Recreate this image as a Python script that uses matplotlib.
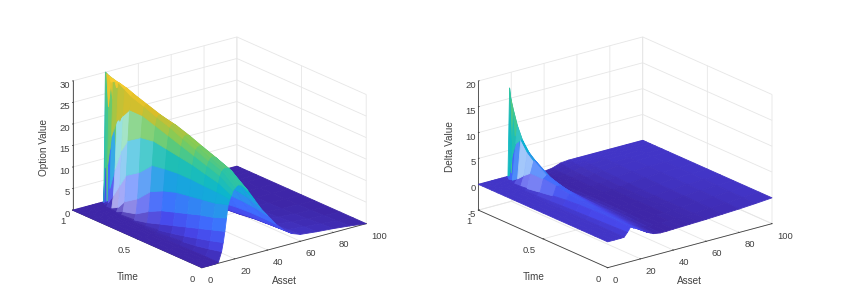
import numpy as np
import matplotlib
matplotlib.use('Agg')
import matplotlib.pyplot as plt
from matplotlib.colors import LinearSegmentedColormap

plt.rcParams['font.family'] = ['Liberation Sans', 'DejaVu Sans']
plt.rcParams['axes.unicode_minus'] = False

asset_left = [0, 4, 8, 10, 12, 13, 14, 15, 16, 17, 18, 19, 20, 21, 22, 24, 26, 28, 32, 36, 40, 45, 50, 55, 60, 70, 80, 90, 100]
asset_right = [0, 4, 8, 10, 12, 14, 16, 18, 19, 20, 21, 22, 24, 26, 28, 32, 36, 40, 45, 50, 55, 60, 70, 80, 90, 100]
time_levels = [1, .99, .97, .94, .9, .85, .8, .7, .6, .5, .4, .3, .2, .1, 0]

## one row per time level
option_value = [
    [0, 0, 0, 0, 0, 0, 0, 0, 0, 0, 0, 0, 30, 0, 0, 0, 0, 0, 0, 0, 0, 0, 0, 0, 0, 0, 0, 0, 0],
    [0, 0, 0, 0, 0, 0, 0, 0, 0, 0, 0, 8, 29.8, 22, 12, 3, .5, 0, 0, 0, 0, 0, 0, 0, 0, 0, 0, 0, 0],
    [0, 0, 0, 0, 0, 0, 0, 0, 0, 0, .5, 9, 29.5, 28, 24, 13, 6, 2.5, .3, 0, 0, 0, 0, 0, 0, 0, 0, 0, 0],
    [0, 0, 0, 0, 0, 0, 0, 0, 0, .8, 4, 16, 29.2, 28.6, 27, 19, 12, 7, 1.8, .2, 0, 0, 0, 0, 0, 0, 0, 0, 0],
    [0, 0, 0, 0, 0, 0, 0, 0, .2, 3, 9, 20, 28.9, 28.6, 28, 23, 17, 11.5, 4.5, 1.2, .2, 0, 0, 0, 0, 0, 0, 0, 0],
    [0, 0, 0, 0, 0, 0, 0, .1, 1, 6, 14, 22, 28, 28.2, 27.8, 25, 20.5, 16, 8, 3, 1, .2, 0, 0, 0, 0, 0, 0, 0],
    [0, 0, 0, 0, 0, 0, .1, .8, 3, 9, 17, 24, 27, 27.5, 27.2, 24.5, 21, 17, 10, 5, 2, .7, .2, 0, 0, 0, 0, 0, 0],
    [0, 0, 0, 0, 0, .05, .3, 1.6, 5, 11, 19, 24, 26, 26.3, 26.2, 25, 22.5, 20, 14, 9, 5, 2.2, 1, .4, .2, 0, 0, 0, 0],
    [0, 0, 0, 0, .05, .3, 1, 3.5, 8, 14, 19.5, 23, 24.8, 25.2, 25.2, 24.3, 22.5, 20.5, 15.5, 11, 7, 3.5, 1.7, .8, .4, .2, .1, .05, 0],
    [0, 0, 0, 0, .2, .7, 2, 5, 9.5, 14.5, 19, 22, 23.8, 24.3, 24.5, 23.8, 22.5, 20.5, 16, 11.5, 8, 4.5, 2.3, 1.1, .6, .3, .15, .05, 0],
    [0, 0, 0, .05, .5, 1.3, 3, 6, 10.5, 14.8, 18.5, 21, 22.5, 23, 23.2, 22.8, 21.5, 20, 16, 12, 8.5, 5, 2.7, 1.4, .8, .4, .2, .1, 0],
    [0, 0, 0, .1, .8, 2, 4, 7, 11, 14.8, 18, 20, 21.3, 21.8, 22, 21.6, 20.6, 19.2, 15.7, 12, 8.8, 5.4, 3.1, 1.8, 1, .6, .3, .15, 0],
    [0, 0, 0, .15, 1.2, 2.8, 5, 8, 11.5, 14.6, 17.2, 19, 20, 20.5, 20.8, 20.5, 19.6, 18.3, 15.1, 11.8, 8.8, 5.6, 3.4, 2, 1.2, .8, .5, .25, 0],
    [0, 0, 0, .2, 1.8, 3.6, 6, 8.8, 12, 14.5, 16.5, 18, 18.9, 19.3, 19.5, 19.3, 18.4, 17.2, 14.2, 11.2, 8.5, 5.6, 3.5, 2.2, 1.4, 1, .7, .35, 0],
    [0, 0, .02, .2, 2.5, 4.5, 7, 10, 13, 14.2, 15, 16, 16.4, 16.8, 17, 16.8, 16, 15, 12.5, 10, 8, 5.5, 3.6, 2.3, 1.6, 1.2, .9, .5, 0],
]

## same time levels
delta_value = [
    [0, 0, 0, 0, 0, 0, 0, 0, 17, .5, 0, -.2, -.5, -.7, -.8, -.9, -.9, -.9, -.7, -.15, 0, 0, 0, 0, 0, 0],
    [0, 0, 0, 0, 0, 0, 0, .3, 15, 6, 1, -.1, -.6, -.8, -.85, -.9, -.9, -.9, -.75, -.25, -.05, 0, 0, 0, 0, 0],
    [0, 0, 0, 0, 0, 0, 0, 4, 13, 8, 3.5, 1, -.5, -.8, -.9, -.95, -.95, -.9, -.75, -.35, -.1, -.03, 0, 0, 0, 0],
    [0, 0, 0, 0, 0, 0, .1, 7, 10.4, 8.5, 5.5, 3, .3, -.5, -.8, -.95, -.95, -.95, -.8, -.5, -.2, -.08, -.02, 0, 0, 0],
    [0, 0, 0, 0, 0, 0, .8, 8.2, 8, 7, 5.5, 3.8, 1, -.2, -.6, -.95, -1, -1, -.85, -.6, -.3, -.15, -.04, -.01, 0, 0],
    [0, 0, 0, 0, 0, .05, 2, 6.3, 6.2, 5.5, 4.7, 3.6, 1.5, .2, -.4, -.9, -1, -1, -.9, -.65, -.4, -.2, -.07, -.02, 0, 0],
    [0, 0, 0, 0, 0, .2, 3, 5.2, 5.1, 4.7, 4, 3.3, 1.7, .5, -.2, -.85, -1, -1, -.9, -.7, -.45, -.3, -.1, -.03, -.01, 0],
    [0, 0, 0, 0, .05, .6, 3, 3.5, 3.3, 3, 2.6, 2.2, 1.4, .6, .05, -.7, -.95, -1, -.95, -.8, -.6, -.4, -.15, -.05, -.02, 0],
    [0, 0, 0, 0, .15, 1, 2.7, 2.6, 2.4, 2.2, 1.9, 1.6, 1.1, .5, .05, -.6, -.9, -1, -1, -.85, -.7, -.5, -.25, -.1, -.03, 0],
    [0, 0, 0, .02, .3, 1.3, 2.2, 2.1, 1.9, 1.7, 1.5, 1.3, .9, .4, .02, -.55, -.9, -1, -1, -.9, -.75, -.6, -.3, -.13, -.05, 0],
    [0, 0, 0, .03, .4, 1.5, 2, 1.8, 1.6, 1.4, 1.2, 1, .7, .3, -.05, -.6, -.9, -1, -1, -.9, -.8, -.65, -.35, -.18, -.07, 0],
    [0, 0, 0, .04, .5, 1.6, 1.8, 1.5, 1.3, 1.2, 1, .8, .5, .15, -.15, -.65, -.95, -1, -1, -.9, -.8, -.7, -.42, -.25, -.1, 0],
    [0, 0, 0, .05, .6, 1.65, 1.6, 1.3, 1.1, 1, .8, .6, .3, 0, -.3, -.75, -1, -1, -.95, -.9, -.8, -.7, -.5, -.32, -.17, 0],
    [0, 0, 0, .05, .7, 1.6, 1.5, 1.1, .9, .8, .6, .4, .1, -.2, -.5, -.9, -1, -.95, -.9, -.85, -.8, -.75, -.55, -.4, -.2, 0],
    [0, 0, 0, .05, .8, 1.7, 1.3, 1, .8, .6, .4, .2, -.2, -.5, -.8, -1, -1, -.95, -.9, -.85, -.8, -.75, -.6, -.45, -.25, 0],
]

parula = LinearSegmentedColormap.from_list('parula', [
    (.2422, .1504, .6603), (.2803, .2782, .9221), (.2440, .4358, .9988), (.1540, .5902, .9218),
    (.0297, .7082, .8163), (.1938, .7758, .6251), (.5044, .7993, .3480), (.8634, .7406, .1596),
    (.9892, .8136, .1885), (.9769, .9839, .0805)])

def face_colours(X, Y, Z, clim, gap_scale):
    ## cell colours from height, pale where the mesh lines are spread apart on the steep rising side
    mid = (Z[:-1, :-1]+Z[1:, :-1]+Z[:-1, 1:]+Z[1:, 1:])/4
    level = (mid-clim[0])/(clim[1]-clim[0])
    rgba = parula(level)
    slope = (Z[:-1, 1:]-Z[:-1, :-1])/(X[:-1, 1:]-X[:-1, :-1])
    tm = (Y[:-1, :-1]+Y[1:, :-1])/2
    gap = .55*np.clip(slope/gap_scale, 0, 1)*np.clip((.93-tm)/.05, 0, 1)*np.clip((tm-.5)/.35, 0, 1)
    gap = gap*np.clip((.7-level)/.1, 0, 1)
    rgba[..., :3] = rgba[..., :3]*(1-gap[..., None])+gap[..., None]
    return rgba

def label(x, y, s, **kw):
    ## pixel position in the 857x300 picture
    fig.text(x/857, 1-y/300, s, fontsize=7.2, color='#404040', ha='center', va='center', **kw)

def draw_panel(rect, xs, Z, clim, zticks, gap_scale):
    ax = fig.add_axes(rect, projection='3d', proj_type='ortho')
    ax.view_init(elev=20.2, azim=-127.8)
    ax.set_box_aspect((207, 210, 137))
    X, Y = np.meshgrid(xs, time_levels)
    Z = np.array(Z, dtype=float)
    ax.plot_surface(X, Y, Z, facecolors=face_colours(X, Y, Z, clim, gap_scale), rstride=1, cstride=1,
                    shade=False, linewidth=.6, antialiased=True)
    ax.set_xlim(0, 100, view_margin=0)
    ax.set_ylim(0, 1, view_margin=0)
    ax.set_zlim(zticks[0], zticks[-1], view_margin=0)
    ax.set_xticks([0, 20, 40, 60, 80, 100])
    ax.set_yticks([0, .5, 1])
    ax.set_yticklabels(['0', '0.5', '1'])
    ax.set_zticks(zticks)
    for axis in (ax.xaxis, ax.yaxis, ax.zaxis):
        axis.set_pane_color((1, 1, 1, 0))
        axis.pane.set_edgecolor('#e3e3e3')
        axis.line.set_color('#404040')
        axis.line.set_linewidth(.6)
        axis._axinfo['grid'].update(color='#e6e6e6', linewidth=.6)
        axis._axinfo['tick'].update(inward_factor=0, outward_factor=.06, linewidth={True: .6, False: .4})
        axis.set_tick_params(labelsize=6.8, labelcolor='#404040', color='#404040', pad=-3)
    ax.zaxis.set_tick_params(pad=-7)
    for t in ax.get_xticklabels():
        t.set_ha('left')
    for t in ax.get_yticklabels():
        t.set_ha('right')
    for t in ax.get_zticklabels():
        t.set_ha('right')
    return ax

fig = plt.figure(figsize=(8.57, 3.0), dpi=100)
ax1 = draw_panel([.066, -.072, .37, 1.1], asset_left, option_value, (0, 33), [0, 5, 10, 15, 20, 25, 30], 2.0)
ax1.plot([20, 20], [1, 1], [0, 30], color='#7a66e0', linewidth=.8)
ax2 = draw_panel([.5395, -.072, .37, 1.1], asset_right, delta_value, (-1, 18), [-5, 0, 5, 10, 15, 20], 2.0)
label(284, 281, 'Asset')
label(128, 277, 'Time')
label(44, 147, 'Option Value', rotation=90)
label(689, 281, 'Asset')
label(534, 277, 'Time')
label(450, 147, 'Delta Value', rotation=90)
fig.savefig('out.png', dpi=100)
